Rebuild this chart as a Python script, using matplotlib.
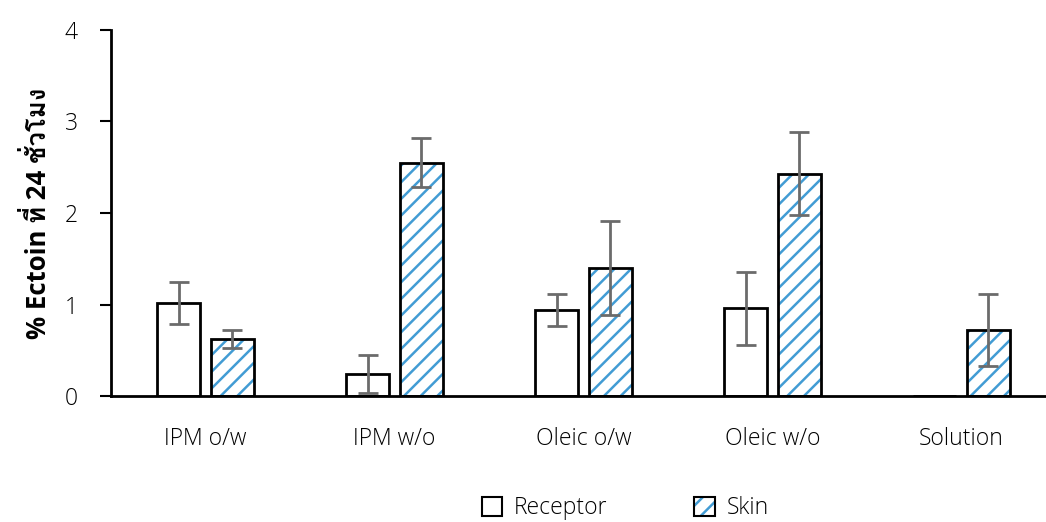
import matplotlib
matplotlib.use("Agg")
import matplotlib.pyplot as plt
import numpy as np
from matplotlib import font_manager as fm
from matplotlib.ft2font import FT2Font
from matplotlib.patches import Patch
from matplotlib.legend_handler import HandlerTuple

categories = ["IPM o/w", "IPM w/o", "Oleic o/w", "Oleic w/o", "Solution"]
receptor = [1.02, 0.24, 0.94, 0.96, 0.0]
receptor_err = [0.23, 0.21, 0.17, 0.40, 0.0]
skin = [0.62, 2.55, 1.40, 2.43, 0.72]
skin_err = [0.10, 0.27, 0.51, 0.45, 0.39]
yticks = [0, 1, 2, 3, 4]
ylabel = "% Ectoin ที่ 24 ชั่วโมง"

# find fonts with Thai glyphs (prefer a bold one for the label)
thai_reg, thai_bold = None, None
for f in fm.fontManager.ttflist:
    try:
        ft = FT2Font(f.fname)
        cm = ft.get_charmap()
        if 0x0E17 in cm and 0x0E48 in cm:
            if thai_reg is None:
                thai_reg = f.name
            w = f.weight if isinstance(f.weight, int) else (700 if "bold" in str(f.weight).lower() else 400)
            if w >= 600 and thai_bold is None:
                thai_bold = f.name
    except Exception:
        pass
thai_font = thai_bold or thai_reg
fams = ["Open Sans"] + ([thai_font] if thai_font else []) + ["DejaVu Sans"]
plt.rcParams["font.family"] = fams
plt.rcParams["hatch.linewidth"] = 1.8

blue = "#429cd4"
W, H = 1046, 522
fig = plt.figure(figsize=(W / 100, H / 100), dpi=100)
ax = fig.add_axes([111 / W, (522 - 396) / H, (1056 - 111) / W, 366 / H])

x = np.arange(len(categories))
bw = 0.227
off = 0.141

ax.bar(x - off, receptor, bw, facecolor="white", edgecolor="black", linewidth=2, zorder=2)
ax.bar(x + off, skin, bw, facecolor="white", edgecolor=blue, hatch="//", linewidth=0, zorder=2)
ax.bar(x + off, skin, bw, facecolor="none", edgecolor="black", linewidth=2, zorder=3)

rx = [xi - off for xi, e in zip(x, receptor_err) if e > 0]
ry = [v for v, e in zip(receptor, receptor_err) if e > 0]
re = [e for e in receptor_err if e > 0]
ax.errorbar(rx, ry, yerr=re, fmt="none", ecolor="#6b6b6b",
            elinewidth=2, capsize=7, capthick=2, zorder=4)
ax.errorbar(x + off, skin, yerr=skin_err, fmt="none", ecolor="#6b6b6b",
            elinewidth=2, capsize=7, capthick=2, zorder=4)

ax.set_xlim(-0.5, 4.5)
ax.set_ylim(0, 4)
ax.set_yticks(yticks)
ax.set_xticks(x)
ax.set_xticklabels(categories, fontsize=16.5, fontweight="light")
ax.tick_params(axis="x", length=0, pad=22)
ax.tick_params(axis="y", direction="out", length=8, width=1.5, labelsize=16.5, pad=16)
for lbl in ax.get_yticklabels():
    lbl.set_fontweight("light")
for s in ["top", "right"]:
    ax.spines[s].set_visible(False)
ax.spines["left"].set_linewidth(2)
ax.spines["bottom"].set_linewidth(2)
ax.set_ylabel(ylabel, fontsize=18.5, fontweight="bold")
ax.yaxis.set_label_coords(-58 / 935, 0.5)

h1 = Patch(facecolor="white", edgecolor="black", linewidth=1.5)
h2a = Patch(facecolor="white", edgecolor=blue, hatch="//", linewidth=0)
h2b = Patch(facecolor="none", edgecolor="black", linewidth=1.5)
fig.legend([h1, (h2a, h2b)], ["Receptor", "Skin"], loc="center",
           bbox_to_anchor=(625 / W, 1 - 508 / H), ncol=2, frameon=False,
           prop={"size": 16.5, "weight": "light"}, handlelength=0.9, handleheight=0.9,
           columnspacing=3.8, handletextpad=0.5,
           handler_map={tuple: HandlerTuple(ndivide=1, pad=0)})

fig.savefig("out.png", dpi=100)
